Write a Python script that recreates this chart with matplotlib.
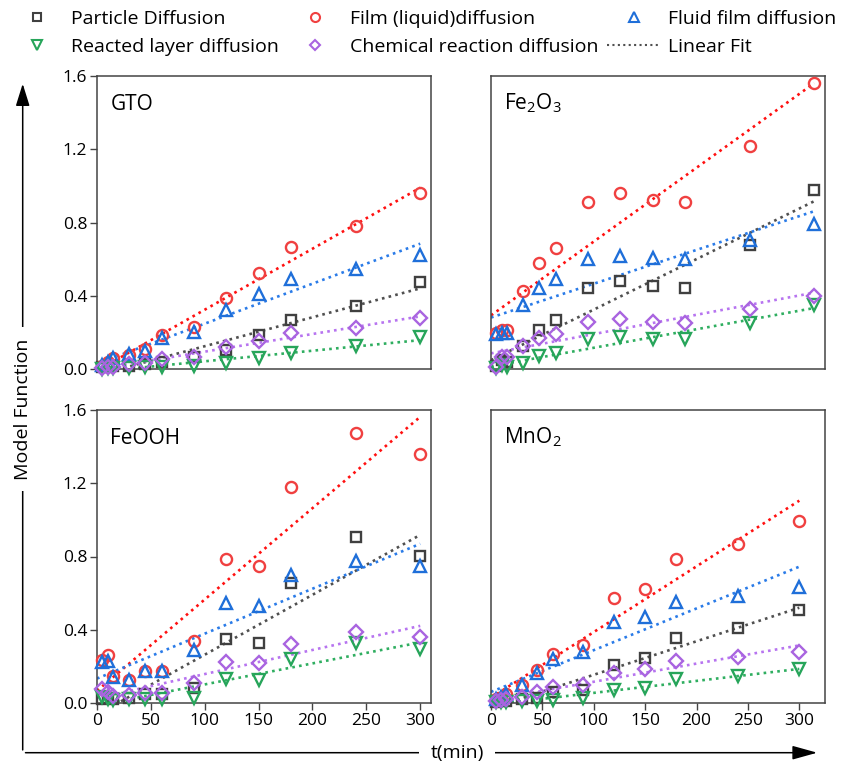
import numpy as np
import matplotlib.pyplot as plt
from matplotlib.lines import Line2D
from matplotlib.patches import FancyArrowPatch

plt.rcParams['font.family'] = 'Open Sans'
plt.rcParams['mathtext.fontset'] = 'custom'
plt.rcParams['mathtext.rm'] = 'Open Sans'
plt.rcParams['mathtext.default'] = 'rm'

# sampling times (min)
time = [5, 10, 15, 30, 45, 60, 90, 120, 150, 180, 240, 300]

# GTO
gto_particle = [0.01, 0.01, 0.02, 0.02, 0.03, 0.04, 0.069, 0.105, 0.187, 0.269, 0.345, 0.478]
gto_film = [0.02, 0.04, 0.06, 0.08, 0.11, 0.187, 0.233, 0.387, 0.524, 0.665, 0.784, 0.96]
gto_fluid = [0.024, 0.042, 0.064, 0.084, 0.102, 0.169, 0.205, 0.324, 0.409, 0.493, 0.545, 0.624]
gto_reacted = [0.003, 0.005, 0.006, 0.008, 0.01, 0.011, 0.018, 0.033, 0.06, 0.091, 0.127, 0.178]
gto_chemical = [0.008, 0.012, 0.015, 0.03, 0.033, 0.056, 0.069, 0.12, 0.155, 0.196, 0.227, 0.278]

# Fe2O3
fe2o3_particle = [0.02, 0.05, 0.04, 0.127, 0.215, 0.269, 0.442, 0.482, 0.455, 0.442, 0.678, 0.978]
fe2o3_film = [0.2, 0.215, 0.215, 0.429, 0.578, 0.664, 0.911, 0.96, 0.924, 0.911, 1.218, 1.56]
fe2o3_fluid = [0.19, 0.2, 0.2, 0.351, 0.442, 0.491, 0.6, 0.618, 0.605, 0.6, 0.705, 0.793]
fe2o3_reacted = [0.005, 0.024, 0.015, 0.036, 0.073, 0.091, 0.164, 0.178, 0.164, 0.164, 0.251, 0.351]
fe2o3_chemical = [0.015, 0.069, 0.069, 0.127, 0.173, 0.193, 0.256, 0.273, 0.26, 0.255, 0.327, 0.4]

# FeOOH
feooh_particle = [0.02, 0.03, 0.02, 0.03, 0.05, 0.05, 0.08, 0.347, 0.325, 0.653, 0.904, 0.802]
feooh_film = [0.235, 0.262, 0.147, 0.125, 0.176, 0.176, 0.34, 0.784, 0.749, 1.18, 1.476, 1.358]
feooh_fluid = [0.225, 0.229, 0.14, 0.125, 0.175, 0.175, 0.289, 0.544, 0.531, 0.698, 0.775, 0.749]
feooh_reacted = [0.035, 0.02, 0.015, 0.02, 0.02, 0.02, 0.025, 0.129, 0.125, 0.238, 0.329, 0.293]
feooh_chemical = [0.075, 0.06, 0.04, 0.044, 0.056, 0.056, 0.11, 0.225, 0.216, 0.322, 0.389, 0.362]

# MnO2
mno2_particle = [0.005, 0.01, 0.012, 0.02, 0.03, 0.058, 0.071, 0.207, 0.244, 0.356, 0.411, 0.507]
mno2_film = [0.02, 0.03, 0.05, 0.1, 0.18, 0.267, 0.316, 0.571, 0.625, 0.789, 0.867, 0.995]
mno2_fluid = [0.02, 0.035, 0.05, 0.098, 0.165, 0.238, 0.28, 0.44, 0.471, 0.549, 0.584, 0.635]
mno2_reacted = [0.003, 0.005, 0.006, 0.01, 0.012, 0.016, 0.029, 0.071, 0.08, 0.129, 0.147, 0.185]
mno2_chemical = [0.01, 0.015, 0.02, 0.035, 0.062, 0.089, 0.098, 0.165, 0.185, 0.229, 0.249, 0.28]

model_labels = ['Particle Diffusion', 'Film (liquid)diffusion', 'Fluid film diffusion',
                'Reacted layer diffusion', 'Chemical reaction diffusion']
markers = ['s', 'o', '^', 'v', 'D']
marker_colors = ['#404040', '#f04040', '#1f6fd9', '#27a55a', '#a964e0']
fit_colors = ['#505050', '#ff1010', '#2a7be8', '#2fae60', '#b774f0']
marker_sizes = [7, 8, 8.5, 8.5, 7]

panels = [
    ('GTO', [gto_particle, gto_film, gto_fluid, gto_reacted, gto_chemical], 310),
    ('$Fe_2O_3$', [fe2o3_particle, fe2o3_film, fe2o3_fluid, fe2o3_reacted, fe2o3_chemical], 310),
    ('FeOOH', [feooh_particle, feooh_film, feooh_fluid, feooh_reacted, feooh_chemical], 310),
    ('$MnO_2$', [mno2_particle, mno2_film, mno2_fluid, mno2_reacted, mno2_chemical], 325),
]

W, H = 852, 765
fig = plt.figure(figsize=(W / 100, H / 100), dpi=100)

# axes boxes in pixels: left, top, right, bottom
boxes = [(97, 76, 431, 369.3), (491, 76, 825, 369.3),
         (97, 410, 431, 703), (491, 410, 825, 703)]

t = np.array(time)
t_fit = np.array([0, 300])
spine_color = '#444444'

for i, ((name, series, xmax), (l, tp, r, b)) in enumerate(zip(panels, boxes)):
    ax = fig.add_axes([l / W, 1 - b / H, (r - l) / W, (b - tp) / H])
    for k, y in enumerate(series):
        y = np.array(y)
        slope, icpt = np.polyfit(t, y, 1)
        ax.plot(t_fit, icpt + slope * t_fit, linestyle=(0, (1, 1.6)), lw=1.9,
                color=fit_colors[k], zorder=2)
        ax.plot(t, y, linestyle='none', marker=markers[k], ms=marker_sizes[k],
                mfc='none', mec=marker_colors[k], mew=1.7, zorder=3, clip_on=False)
    ax.set_xlim(0, xmax)
    ax.set_ylim(0, 1.6)
    ax.set_xticks([0, 50, 100, 150, 200, 250, 300])
    ax.set_yticks([0, 0.4, 0.8, 1.2, 1.6])
    ax.set_yticklabels(['0.0', '0.4', '0.8', '1.2', '1.6'])
    for sp in ax.spines.values():
        sp.set_color(spine_color)
        sp.set_linewidth(1.1)
    ax.tick_params(direction='out', length=5, width=1, color=spine_color,
                   labelsize=12.5, pad=2)
    if i < 2:
        ax.tick_params(axis='x', bottom=False, labelbottom=False)
    if i % 2 == 1:
        ax.tick_params(axis='y', left=False, labelleft=False)
    ax.text(0.04, 0.885, name, transform=ax.transAxes, fontsize=15,
            ha='left', va='baseline')

# legend across the top
handles = [Line2D([], [], linestyle='none', marker=markers[k], ms=marker_sizes[k] - 1.5,
                  mfc='none', mec=marker_colors[k], mew=1.5) for k in range(5)]
handles.append(Line2D([], [], linestyle=(0, (1, 1.6)), lw=1.5, color='#505050'))
labels = model_labels + ['Linear Fit']
order = [0, 3, 1, 4, 2, 5]
fig.legend([handles[j] for j in order], [labels[j] for j in order],
           loc='upper left', bbox_to_anchor=(10 / W, 1 - 10 / H), ncol=3,
           frameon=False, fontsize=14, handlelength=2.8, handletextpad=0.36,
           columnspacing=0.45, labelspacing=0.5, borderaxespad=0, borderpad=0)

# axis arrows with labels
x0, y0 = 22.7 / W, 1 - 752.7 / H
fig.add_artist(FancyArrowPatch((x0, y0), (x0, 1 - 81 / H), transform=fig.transFigure,
                               arrowstyle='-|>,head_length=0.8,head_width=0.25',
                               mutation_scale=17, lw=1.1, color='black'))
fig.add_artist(FancyArrowPatch((x0, y0), (820 / W, y0), transform=fig.transFigure,
                               arrowstyle='-|>,head_length=0.9,head_width=0.25',
                               mutation_scale=17, lw=1.1, color='black'))
fig.text(x0, 1 - 409 / H, 'Model Function', rotation=90, ha='center', va='center',
         fontsize=14, bbox=dict(boxstyle='square,pad=0.6', facecolor='white', edgecolor='none'))
fig.text(457 / W, y0, 't(min)', ha='center', va='center', fontsize=14,
         bbox=dict(boxstyle='square,pad=0.6', facecolor='white', edgecolor='none'))

fig.savefig('out.png', dpi=100)
